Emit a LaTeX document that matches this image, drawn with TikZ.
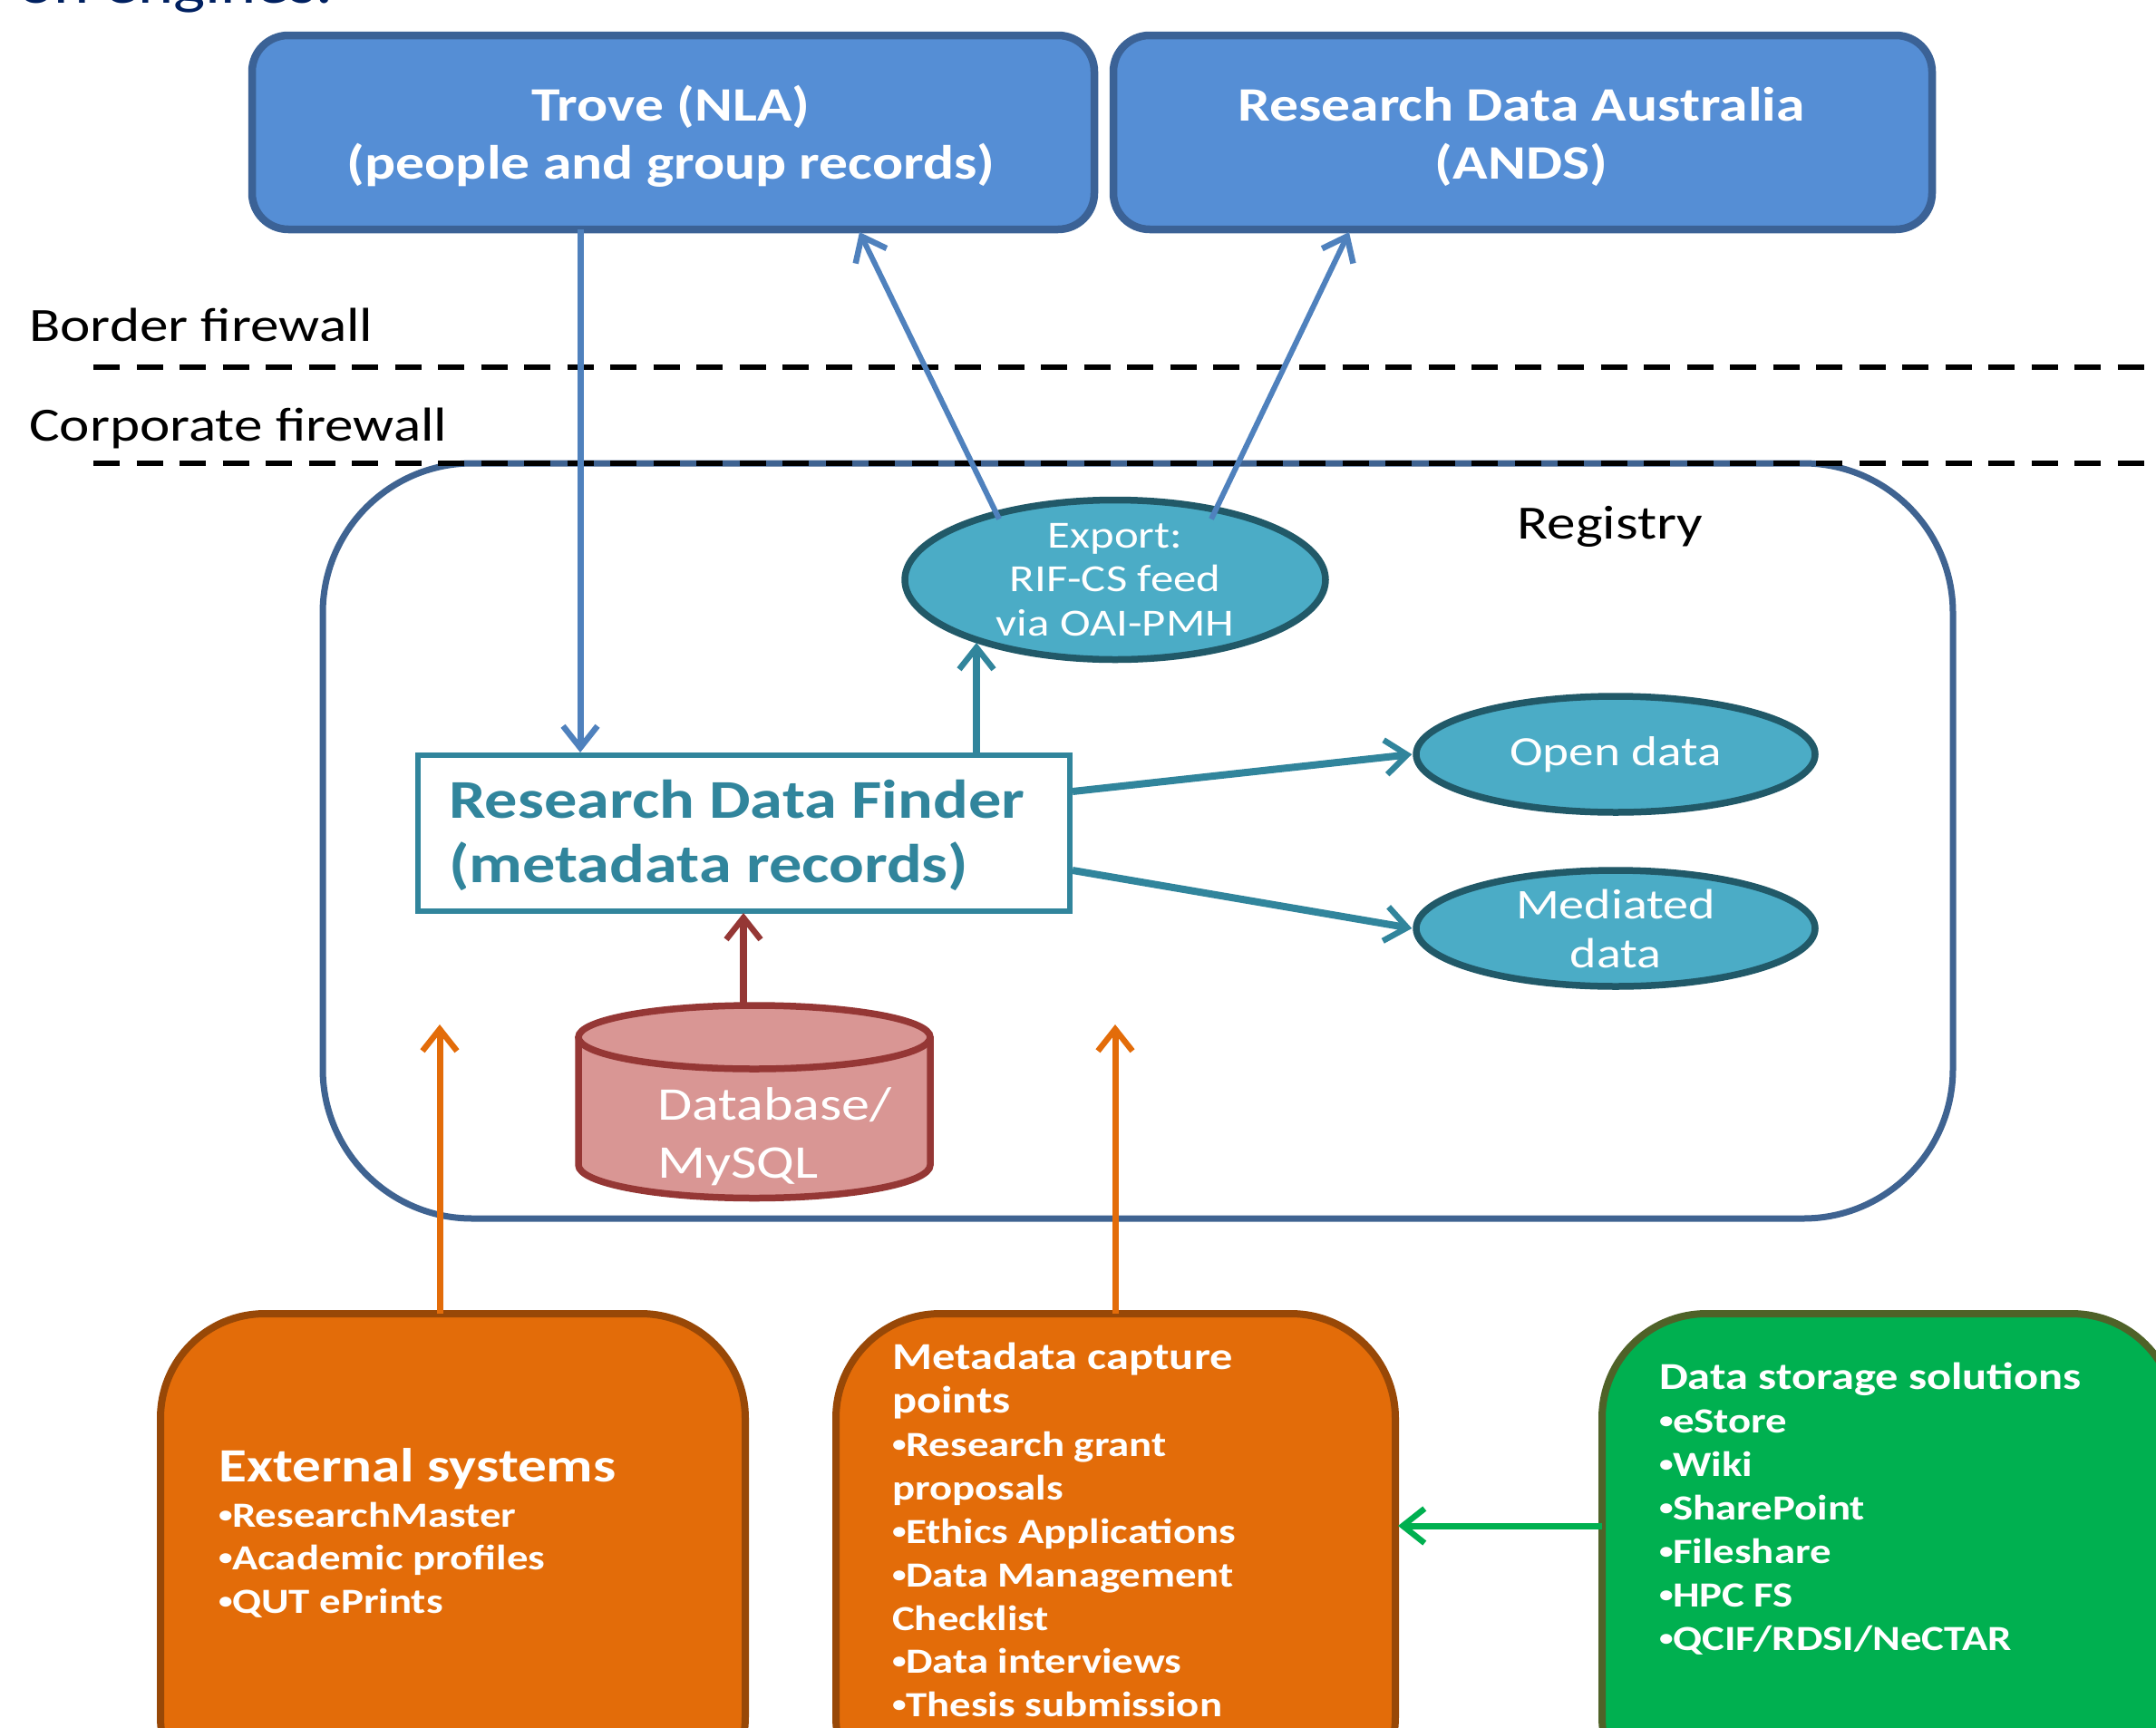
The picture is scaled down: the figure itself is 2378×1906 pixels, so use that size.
\documentclass[tikz,border=0pt]{standalone}
\usepackage{fontspec}
\usetikzlibrary{arrows.meta,shapes.geometric,calc}
\setmainfont[FakeStretch=1.2]{Carlito}
\definecolor{bluef}{HTML}{558ED5}
\definecolor{blued}{HTML}{3B6296}
\definecolor{arrowblue}{HTML}{4F81BD}
\definecolor{regline}{HTML}{3F6391}
\definecolor{tealf}{HTML}{4BACC6}
\definecolor{teald}{HTML}{215968}
\definecolor{tealline}{HTML}{31859C}
\definecolor{redf}{HTML}{D99694}
\definecolor{redd}{HTML}{953735}
\definecolor{orf}{HTML}{E36C09}
\definecolor{ord}{HTML}{984807}
\definecolor{grf}{HTML}{00B050}
\definecolor{grd}{HTML}{4F6228}
\definecolor{navy}{HTML}{002060}
\newcommand{\bul}{\makebox[15pt][l]{\raisebox{5pt}{\fontsize{26}{26}\selectfont\textbullet}}}
\newcommand{\sm}{\fontsize{39}{47.9}\selectfont}
\newcommand{\hd}{\fontsize{42}{47.9}\selectfont}
\tikzset{
 x=1pt,y=-1pt,
 topbox/.style={draw=blued,fill=bluef,line width=8.5pt,rounded corners=40pt,inner sep=0pt},
 toptext/.style={text=white,font=\fontsize{53}{64}\selectfont\bfseries,align=center,inner sep=0pt},
 teal ell/.style={ellipse,draw=teald,fill=tealf,line width=7.5pt,text=white,font=\fontsize{42.3}{48.5}\selectfont,align=center,inner sep=0pt},
 lowbox/.style={draw=#1,line width=8pt,rounded corners=115pt,inner sep=0pt},
 lowtext/.style={anchor=north west,text=white,align=left,inner sep=0pt,font=\fontsize{39}{47.9}\selectfont\bfseries},
 lab/.style={anchor=west,inner sep=0pt,font=\fontsize{52.6}{60}\selectfont,text=black},
 fire/.style={black,line width=5.5pt,dash pattern=on 29pt off 18.5pt},
 conn/.style={line width=#1,-{Straight Barb[length=24pt,width=38pt,line width=6.5pt]}},
}
\begin{document}
\begin{tikzpicture}
\clip (0,0) rectangle (2378,1906);
\fill[white] (0,0) rectangle (2378,1906);
\node[anchor=west,inner sep=0pt,text=navy,font=\fontsize{62}{66}\selectfont] (title) at (20,-13) {on engines.};
% registry
\node[draw=regline,line width=7pt,rounded corners=165pt,minimum width=1798pt,minimum height=833pt,inner sep=0pt] (reg) at (1255,927.5) {};
\node[inner sep=0pt,font=\fontsize{52.6}{60}\selectfont] (regl) at (1776,581) {Registry};
% firewalls
\node[lab] (bfl) at (32,358) {Border firewall};
\node[lab] (cfl) at (32,472) {Corporate firewall};
\coordinate (b1) at (103,405);\coordinate (b2) at (2378,405);
\coordinate (c1) at (103,511);\coordinate (c2) at (2378,511);
\draw[fire] (b1) -- (b2);
\draw[fire] (c1) -- (c2);
% top boxes
\node[topbox,minimum width=929pt,minimum height=214pt] (trove) at (742.5,146) {};
\node[toptext] (trovet) at (740,150) {Trove (NLA)\\(people and group records)};
\node[topbox,minimum width=903pt,minimum height=214pt] (rda) at (1679.5,146) {};
\node[toptext] (rdat) at (1678,151) {Research Data Australia\\(ANDS)};
% ellipses
\node[teal ell,minimum width=464pt,minimum height=170pt] (export) at (1230,639.5) {Export:\\RIF-CS feed\\via OAI-PMH};
\node[teal ell,minimum width=440pt,minimum height=128pt,font=\fontsize{46}{54}\selectfont] (open) at (1782,832) {\raisebox{-2pt}{Open data}};
\node[teal ell,minimum width=440pt,minimum height=128pt,font=\fontsize{46.7}{54}\selectfont] (med) at (1782,1024) {Mediated\\data};
% RDF
\node[draw=tealline,fill=white,line width=6pt,minimum width=719pt,minimum height=172pt,inner sep=0pt] (rdf) at (820.5,919) {};
\node[anchor=west,inner sep=0pt,align=left,text=tealline,font=\fontsize{60.3}{71}\selectfont\bfseries] (rdft) at (495,921) {Research Data Finder\\(metadata records)};
% cylinder
\draw[draw=redd,fill=redf,line width=7.5pt] (638,1143) -- (638,1285) arc[start angle=180,end angle=360,x radius=194pt,y radius=36.5pt] -- (1026,1143);
\draw[draw=redd,fill=redf,line width=7.5pt] (832,1144) ellipse [x radius=194pt,y radius=35pt];
\node[anchor=west,inner sep=0pt,align=left,text=white,font=\fontsize{51.7}{64}\selectfont] (dbt) at (725,1254) {Database/\\MySQL};
% lower boxes
\node[lowbox=ord,fill=orf,minimum width=645pt,minimum height=560pt] (ext) at (499.5,1729) {};
\node[lowbox=ord,fill=orf,minimum width=617pt,minimum height=560pt] (meta) at (1230.5,1729) {};
\node[lowbox=grd,fill=grf,minimum width=633pt,minimum height=560pt] (store) at (2083.5,1729) {};
\node[lowtext] (extt) at (241,1597) {{\fontsize{52.7}{50}\selectfont External systems}\\[2pt]\bul ResearchMaster\\\bul Academic profiles\\\bul QUT ePrints};
\node[lowtext] (metat) at (984,1481) {{\hd Metadata capture}\\{\hd points}\\\bul Research grant\\proposals\\\bul Ethics Applications\\\bul Data Management\\Checklist\\\bul Data interviews\\\bul Thesis submission};
\node[lowtext] (storet) at (1830,1503) {{\hd Data storage solutions}\\\bul eStore\\\bul Wiki\\\bul SharePoint\\\bul Fileshare\\\bul HPC FS\\\bul QCIF/RDSI/NeCTAR};
% connector ends
\coordinate (tdown) at (640,253);
\coordinate (rdfin) at (640,830);
\coordinate (ea) at ($(export)+(-128,-67)$);
\coordinate (eb) at ($(export)+(106,-67)$);
\coordinate (ta) at (948,256);
\coordinate (ra) at (1488,256);
\coordinate (tu) at (1077,833);
\coordinate (tv) at (1077,709);
\coordinate (oa) at (1183,873);
\coordinate (ma) at (1183,960);
\coordinate (oe) at ($(open.west)+(-1,0)$);
\coordinate (me) at ($(med.west)+(-1,0)$);
\coordinate (rs) at (820,1109);
\coordinate (re) at (820,1007);
\coordinate (o1s) at (485,1449);
\coordinate (o1e) at (485,1130);
\coordinate (o2s) at (1230,1449);
\coordinate (o2e) at (1230,1130);
\coordinate (gs) at (1767,1683);
\coordinate (ge) at (1542,1683);
% connectors
\draw[conn=7pt,arrowblue] (tdown) -- (rdfin);
\draw[conn=6pt,arrowblue] (ea) -- (ta);
\draw[conn=6pt,arrowblue] (eb) -- (ra);
\draw[conn=8pt,tealline] (tu) -- (tv);
\draw[conn=8pt,tealline] (oa) -- (oe);
\draw[conn=8pt,tealline] (ma) -- (me);
\draw[conn=8pt,redd] (rs) -- (re);
\draw[conn=7pt,orf] (o1s) -- (o1e);
\draw[conn=7pt,orf] (o2s) -- (o2e);
\draw[conn=7pt,grf] (gs) -- (ge);
\end{tikzpicture}
\end{document}
